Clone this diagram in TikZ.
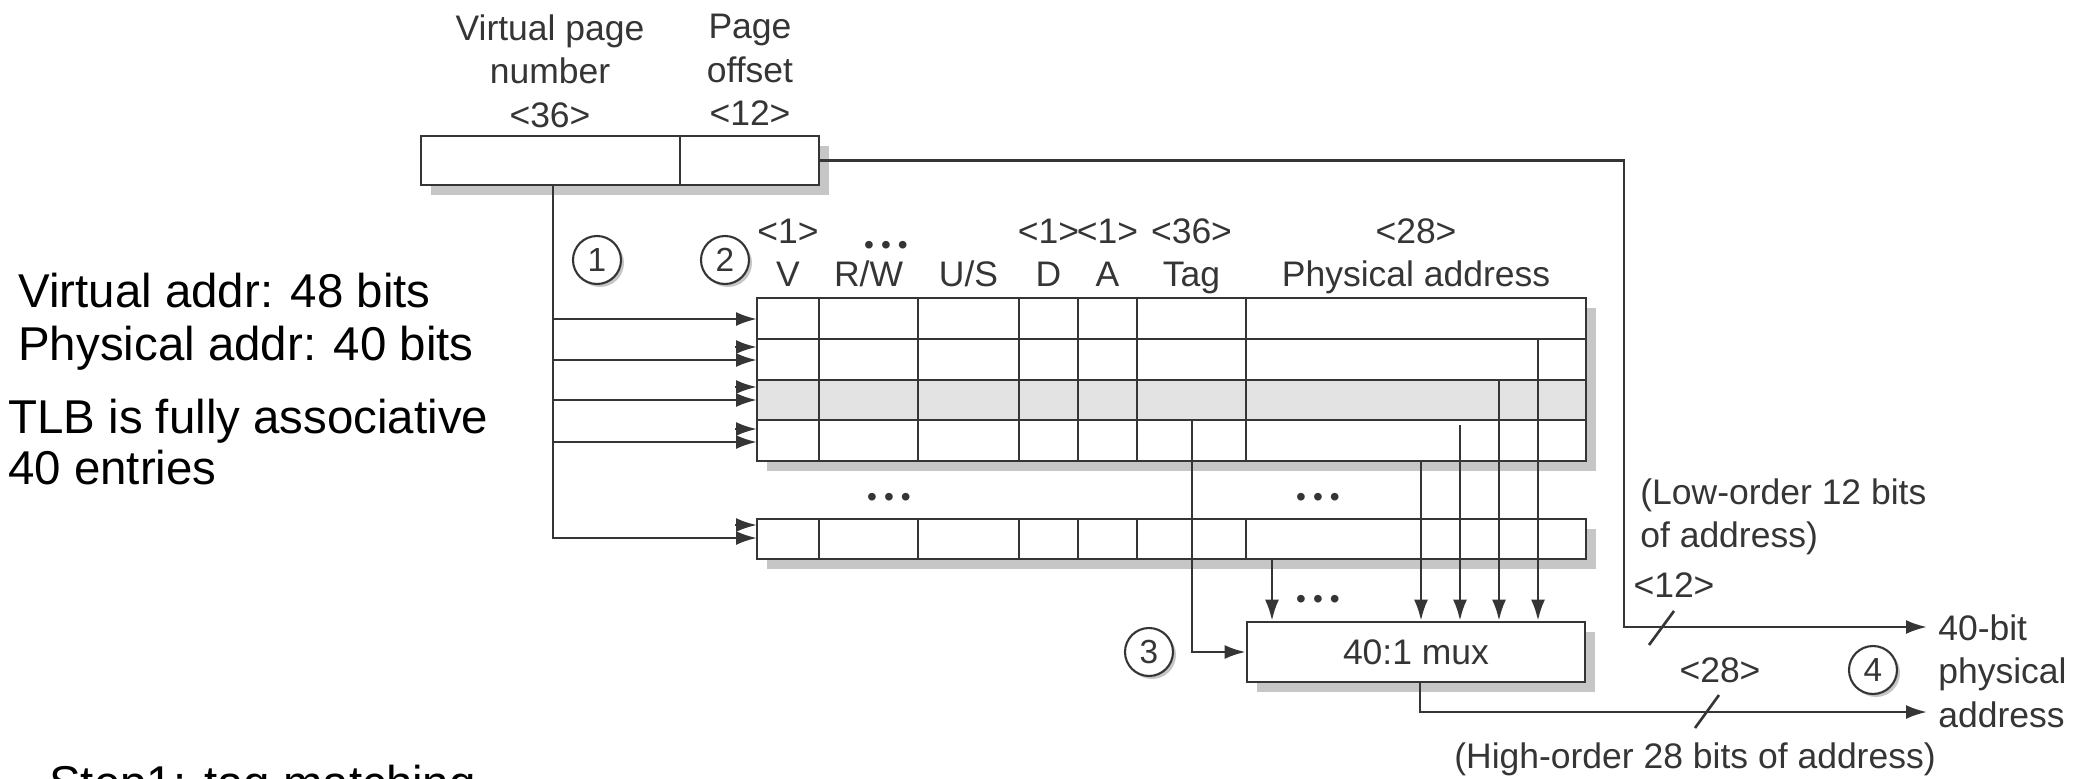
\documentclass[tikz,border=0pt]{standalone}
\usepackage{fontspec}
\setmainfont{Liberation Sans}
\usetikzlibrary{arrows.meta,shadows}
\definecolor{ink}{HTML}{353535}
\definecolor{shade}{HTML}{C6C6C6}
\definecolor{hit}{HTML}{E3E3E3}
\newcommand{\threedots}{\textbullet\hspace{2pt}\textbullet\hspace{2pt}\textbullet}

\begin{document}
\begin{tikzpicture}[line width=0.75pt]
  \useasboundingbox (0,0) rectangle (20.77,7.78);
  \clip (0,0) rectangle (20.77,7.78);

  \tikzset{lbl/.style={text=ink,font=\fontsize{10.1}{12.4}\selectfont,inner sep=0pt},
    note/.style={font=\fontsize{13.5}{16}\selectfont,inner sep=0pt,anchor=base west},
    box/.style={draw=ink,fill=white,inner sep=0pt,
      drop shadow={shadow xshift=0.1cm,shadow yshift=-0.1cm,fill=shade,opacity=1}},
    stepno/.style={circle,draw=ink,fill=white,line width=0.6pt,minimum size=0.48cm,
      inner sep=0pt,text=ink,font=\fontsize{9.5}{9.5}\selectfont,
      drop shadow={shadow xshift=0.03cm,shadow yshift=-0.03cm,fill=shade,opacity=1}},
    gap/.style={text=ink,font=\fontsize{8}{8}\selectfont,inner sep=0pt},
    wire/.style={draw=ink},
    tip/.style={-{Latex[length=2.1mm,width=1.4mm]}}}

% notes
  \node[note] (nva) at (0.17, 4.71) {Virtual addr: 48 bits};
  \node[note] (npa) at (0.17, 4.18) {Physical addr: 40 bits};
  \node[note] (ntlb) at (0.07, 3.45) {TLB is fully associative};
  \node[note] (nent) at (0.07, 2.94) {40 entries};
  \node[note] (nstep) at (0.48, -0.21) {Step1: tag matching};

% virtual address
  \node[box, minimum width=3.98cm, minimum height=0.49cm] (va) at (6.20, 6.175) {};
  \draw[wire] (6.80, 5.93) -- (6.80, 6.42);
  \node[lbl, align=center, anchor=north] (vpnlbl) at (5.50, 7.65) {Virtual page\\number\\<36>};
  \node[lbl, align=center, anchor=north] (offlbl) at (7.50, 7.65) {Page\\offset\\<12>};

% TLB entries
  \node[box, minimum width=8.29cm, minimum height=1.63cm] (tlb) at (11.715, 3.985) {};
  \fill[hit] (7.57, 3.58) rectangle (15.86, 3.98);
  \draw[wire] (7.57, 4.39) -- (15.86, 4.39);
  \draw[wire] (7.57, 3.98) -- (15.86, 3.98);
  \draw[wire] (7.57, 3.58) -- (15.86, 3.58);
  \draw[wire] (8.19, 3.17) -- (8.19, 4.80);
  \draw[wire] (9.18, 3.17) -- (9.18, 4.80);
  \draw[wire] (10.19, 3.17) -- (10.19, 4.80);
  \draw[wire] (10.78, 3.17) -- (10.78, 4.80);
  \draw[wire] (11.37, 3.17) -- (11.37, 4.80);
  \draw[wire] (12.46, 3.17) -- (12.46, 4.80);
  \draw[wire] (7.57, 3.17) rectangle (15.86, 4.80);

  \node[box, minimum width=8.29cm, minimum height=0.40cm] (tlbn) at (11.715, 2.39) {};
  \draw[wire] (8.19, 2.19) -- (8.19, 2.59);
  \draw[wire] (9.18, 2.19) -- (9.18, 2.59);
  \draw[wire] (10.19, 2.19) -- (10.19, 2.59);
  \draw[wire] (10.78, 2.19) -- (10.78, 2.59);
  \draw[wire] (11.37, 2.19) -- (11.37, 2.59);
  \draw[wire] (12.46, 2.19) -- (12.46, 2.59);

  \node[gap] (dl) at (8.89, 2.78) {\threedots};
  \node[gap] (dr) at (13.18, 2.78) {\threedots};

% field names
  \node[lbl, anchor=base] (fv) at (7.88, 4.92) {V};
  \node[lbl, anchor=base] (frw) at (8.685, 4.92) {R/W};
  \node[lbl, anchor=base] (fus) at (9.685, 4.92) {U/S};
  \node[lbl, anchor=base] (fd) at (10.485, 4.92) {D};
  \node[lbl, anchor=base] (fa) at (11.075, 4.92) {A};
  \node[lbl, anchor=base] (ftag) at (11.915, 4.92) {Tag};
  \node[lbl, anchor=base] (fpa) at (14.16, 4.92) {Physical address};
  \node[lbl, anchor=base] (wv) at (7.88, 5.35) {<1>};
  \node[lbl, anchor=base] (wd) at (10.485, 5.35) {<1>};
  \node[lbl, anchor=base] (wa) at (11.075, 5.35) {<1>};
  \node[lbl, anchor=base] (wtag) at (11.915, 5.35) {<36>};
  \node[lbl, anchor=base] (wpa) at (14.16, 5.35) {<28>};
  \node[gap] (drw) at (8.86, 5.30) {\threedots};

% mux
  \node[box, lbl, minimum width=3.38cm, minimum height=0.60cm] (mux) at (14.16, 1.26) {40:1 mux};
  \node[gap] (dm) at (13.18, 1.76) {\threedots};

% steps
  \node[stepno] (s1) at (5.97, 5.18) {1};
  \node[stepno] (s2) at (7.25, 5.18) {2};
  \node[stepno] (s3) at (11.49, 1.26) {3};
  \node[stepno] (s4) at (18.73, 1.08) {4};

% page number to entries
  \coordinate (vpn) at (5.53, 5.93);
  \coordinate (e1) at (7.57, 4.59);
  \coordinate (e2) at (7.57, 4.18);
  \coordinate (e3) at (7.57, 3.78);
  \coordinate (e4) at (7.57, 3.36);
  \coordinate (en) at (7.57, 2.40);
  \draw[wire, tip] (vpn) |- (en);
  \draw[wire, tip] (vpn |- e1) -- (e1);
  \draw[wire, tip] (vpn |- e2) -- (e2);
  \draw[wire, tip] (vpn |- e3) -- (e3);
  \draw[wire, tip] (vpn |- e4) -- (e4);
  \draw[wire, tip] ([shift={(-0.22,0.13)}]e2) -- ([yshift=0.13cm]e2);
  \draw[wire, tip] ([shift={(-0.22,0.13)}]e3) -- ([yshift=0.13cm]e3);
  \draw[wire, tip] ([shift={(-0.22,0.13)}]e4) -- ([yshift=0.13cm]e4);
  \draw[wire, tip] ([shift={(-0.22,0.13)}]en) -- ([yshift=0.13cm]en);

% entries to mux
  \coordinate (tag) at (11.92, 3.58);
  \coordinate (pa1) at (14.21, 3.17);
  \coordinate (pa2) at (14.60, 3.53);
  \coordinate (pa3) at (14.99, 3.98);
  \coordinate (pa4) at (15.38, 4.39);
  \coordinate (pan) at (12.72, 2.19);
  \draw[wire, tip] (tag) |- (mux.west);
  \draw[wire, tip] (pa1) -- (pa1 |- mux.north);
  \draw[wire, tip] (pa2) -- (pa2 |- mux.north);
  \draw[wire, tip] (pa3) -- (pa3 |- mux.north);
  \draw[wire, tip] (pa4) -- (pa4 |- mux.north);
  \draw[wire, tip] (pan) -- (pan |- mux.north);

% physical address
  \coordinate (lo) at (19.27, 1.51);
  \coordinate (hi) at (19.27, 0.66);
  \draw[wire, tip] (va.east) -| (16.24, 1.51) -- (lo);
  \draw[wire, tip] ([xshift=0.04cm]mux.south) |- (hi);
  \draw[wire] (16.74, 1.67) -- (16.49, 1.33);
  \draw[wire] (17.19, 0.83) -- (16.95, 0.50);
  \node[lbl, anchor=base] (w12) at (16.74, 1.81) {<12>};
  \node[lbl, anchor=base] (w28) at (17.20, 0.96) {<28>};
  \node[lbl, align=left, anchor=north west] (lolbl) at (16.39, 3.01) {(Low-order 12 bits\\of address)};
  \node[lbl, anchor=base] (hilbl) at (16.95, 0.10) {(High-order 28 bits of address)};
  \node[lbl, align=left, anchor=north west] (out) at (19.37, 1.65) {40-bit\\physical\\address};

\end{tikzpicture}
\end{document}
